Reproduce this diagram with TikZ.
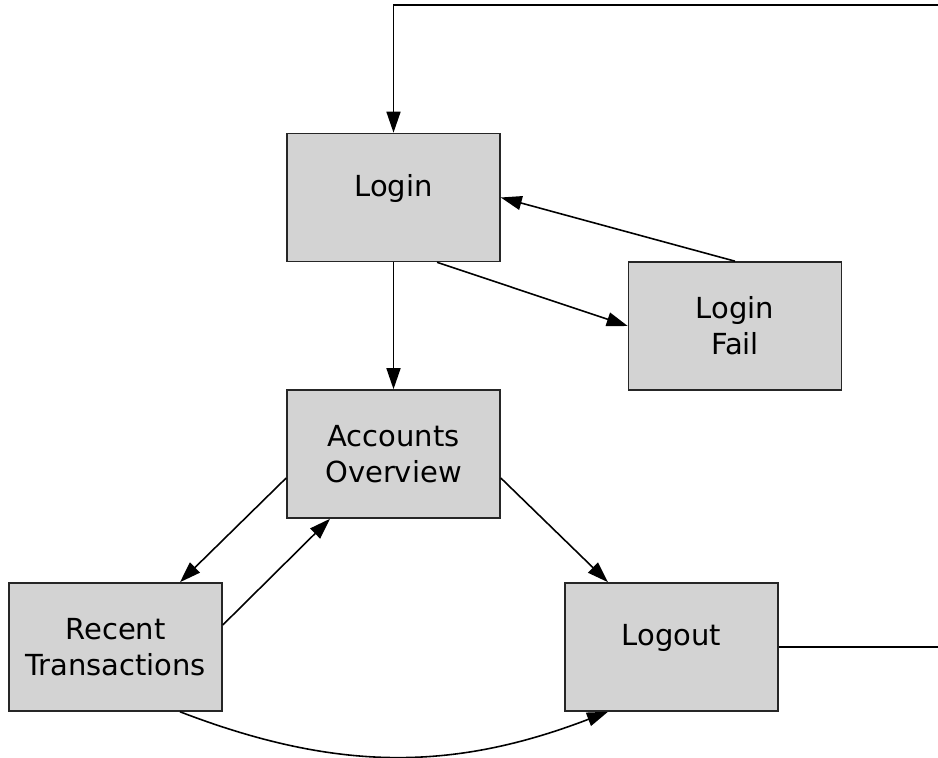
\documentclass[tikz,border=0pt]{standalone}
\usepackage{fontspec}
\setmainfont{DejaVu Sans}
\usetikzlibrary{arrows.meta,positioning}

\definecolor{boxgray}{RGB}{211,211,211}

\tikzset{
    page/.style={box/.style={draw=black!85, fill=boxgray, line width=0.9pt,
        minimum width=4.26cm, minimum height=2.56cm, align=center,
        font=\fontsize{16.5}{20.5}\selectfont}},
    single/.style={text height=0.45cm, text depth=0.5cm},
    arr/.style={-{Triangle[length=4.2mm,width=2.8mm]}, line width=0.9pt},
    plain/.style={line width=0.9pt}
}

\begin{document}
\begin{tikzpicture}[page]

\useasboundingbox (0,0) rectangle (18.76,15.16);

\coordinate (outtop)   at (18.76,15.06);
\coordinate (outright) at (18.76,2.22);

\node [box, single] (login)    at (7.87,11.21) {Login};
\node [box]         (fail)     at (14.70,8.64) {Login\\Fail};
\node [box]         (accounts) at (7.87,6.08)  {Accounts\\Overview};
\node [box]         (recent)   at (2.31,2.22)  {Recent\\Transactions};
\node [box, single] (logout)   at (13.43,2.22) {Logout};

\draw [arr] (outtop) -| (login.north);
\draw [plain] (logout.east) -- (outright);

\draw [arr] (login.south) -- (accounts.north);
\draw [arr] ([xshift=0.87cm]login.south) -- (fail.west);
\draw [arr] (fail.north) -- (login.east);

\draw [arr] ([yshift=-0.48cm]accounts.west) -- ([xshift=1.29cm]recent.north);
\draw [arr] ([yshift=0.44cm]recent.east) -- ([xshift=-1.27cm]accounts.south);
\draw [arr] ([yshift=-0.48cm]accounts.east) -- ([xshift=-1.27cm]logout.north);

\draw [arr] ([xshift=1.29cm]recent.south) to [bend right=21] ([xshift=-1.27cm]logout.south);

\end{tikzpicture}
\end{document}
